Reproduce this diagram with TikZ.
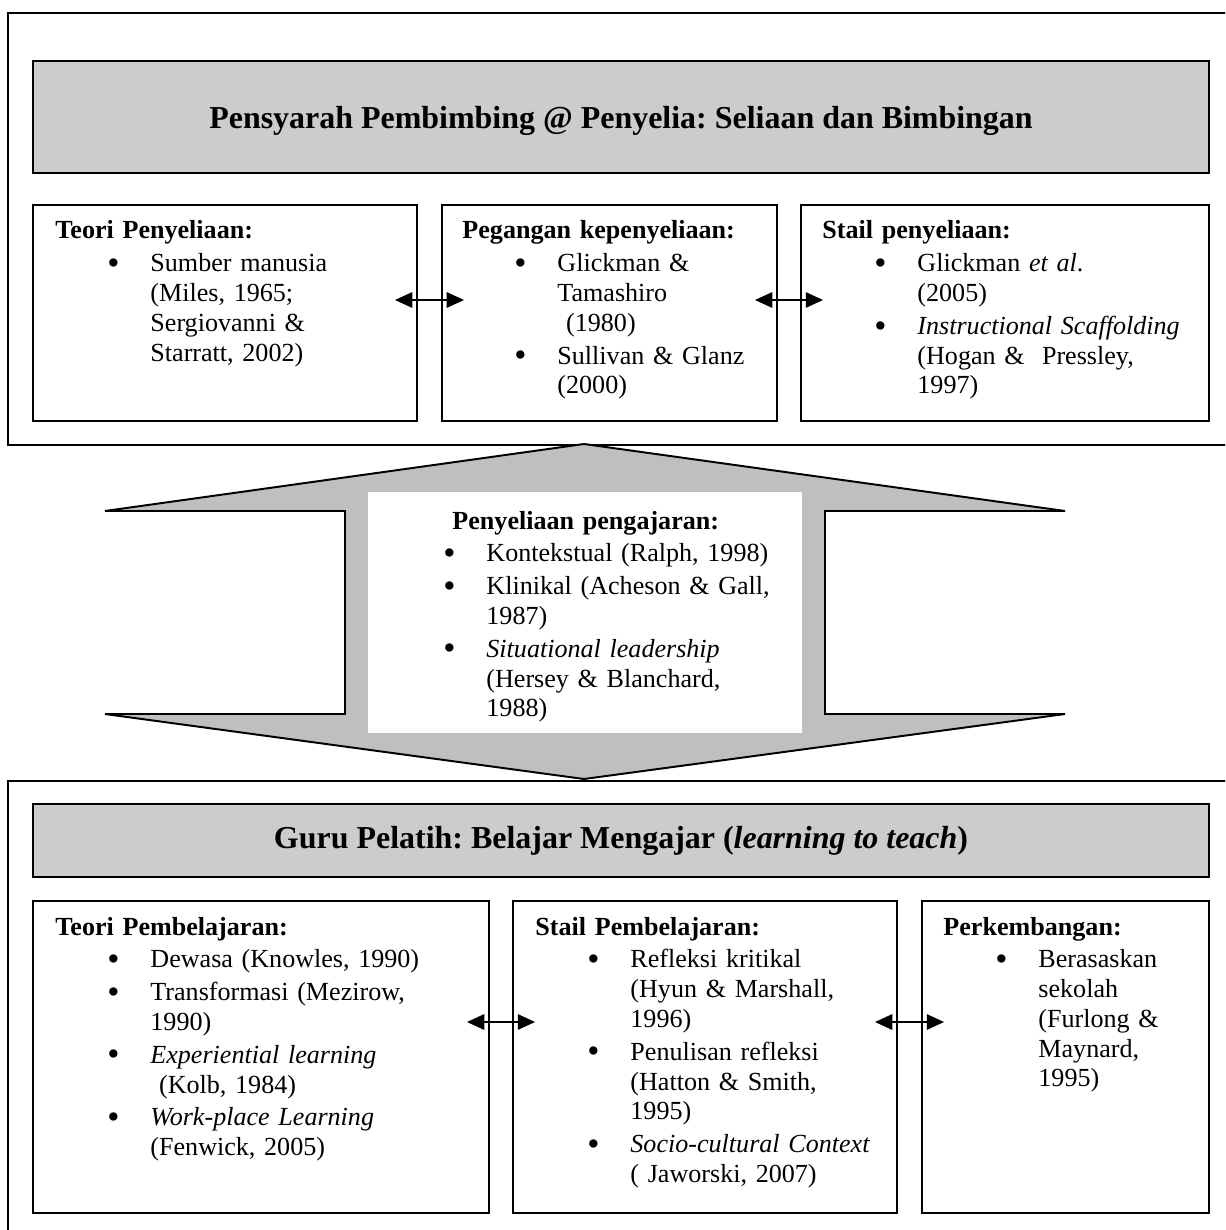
\documentclass[tikz,border=0pt]{standalone}
\usepackage{fontspec}
\setmainfont{Liberation Serif}
\usetikzlibrary{arrows.meta}
\frenchspacing

\newlength\pxu
\setlength\pxu{0.46pt}
\newcommand\dotb{\raisebox{-1.2pt}{\fontsize{16}{16}\selectfont\textbullet}}
\newcommand\itm[1][52]{\hspace*{#1\pxu}\makebox[43\pxu][l]{\dotb}}
\newcommand\ctd[1][95]{\hspace*{#1\pxu}}

\begin{document}
\begin{tikzpicture}
[
	x = 0.46pt, y = -0.46pt,
	frame/.style	= {draw = black, line width = 0.9pt, minimum width = 1232*\pxu, inner sep = 0pt},
	header/.style	= {draw = black, line width = 1.1pt, fill = black!20, minimum width = 1176*\pxu, inner sep = 0pt, font = \fontsize{14.7}{16}\selectfont\bfseries},
	box/.style	= {draw = black, line width = 0.8pt, fill = white, inner sep = 0pt},
	txt/.style	= {anchor = base west, inner sep = 0pt, text width = 210pt, align = left, font = \fontsize{12}{13.7}\selectfont},
	biarrow/.style	= {{Triangle[length = 8pt, width = 7pt]}-{Triangle[length = 8pt, width = 7pt]}, line width = 1.1pt, shorten < = -23*\pxu, shorten > = -23*\pxu},
	bigarrow/.style	= {draw = black, line width = 0.9pt, fill = black!25},
]

	\useasboundingbox (0,0) rectangle (1225,1230);
	\clip (0,0) rectangle (1225,1230);

	% outer frames
	\node (frameA) [frame, minimum height = 432*\pxu] at (624,229) {};
	\node (frameB) [frame, minimum height = 469*\pxu] at (624,1015.5) {};

	% two-way arrow between the frames
	\draw [bigarrow] (584,444) -- (1065,511) -- (825,511) -- (825,714) -- (1065,714) -- (584,779)
		-- (105,714) -- (345,714) -- (345,511) -- (105,511) -- cycle;
	\node (mid) [fill = white, inner sep = 0pt, minimum width = 434*\pxu, minimum height = 241*\pxu] at (585,612.5) {};

	% upper part
	\node (hdrA) [header, text depth = 0pt, minimum height = 112*\pxu] at (621,117) {Pensyarah Pembimbing @ Penyelia: Seliaan dan Bimbingan};
	%
	\node (tpA) [box, minimum width = 384*\pxu, minimum height = 216*\pxu] at (225,313) {};
	\node (pkA) [box, minimum width = 335*\pxu, minimum height = 216*\pxu] at (609.5,313) {};
	\node (spA) [box, minimum width = 408*\pxu, minimum height = 216*\pxu] at (1005,313) {};

	% lower part
	\node (hdrB) [header, minimum height = 73*\pxu] at (621,840.5) {Guru Pelatih: Belajar Mengajar (\textit{learning to teach})};
	%
	\node (tbB) [box, minimum width = 456*\pxu, minimum height = 312*\pxu] at (261,1057) {};
	\node (spB) [box, minimum width = 384*\pxu, minimum height = 312*\pxu] at (705,1057) {};
	\node (pkB) [box, minimum width = 287*\pxu, minimum height = 312*\pxu] at (1065.5,1057) {};

	% texts
	\node (tpAtxt) [txt] at (55,239) {\textbf{Teori Penyeliaan:}\\[1.4pt]
		\itm Sumber manusia\\ \ctd (Miles, 1965;\\ \ctd Sergiovanni \&\\ \ctd Starratt, 2002)};
	\node (pkAtxt) [txt] at (462,239) {\textbf{Pegangan kepenyeliaan:}\\[1.4pt]
		\itm Glickman \&\\ \ctd Tamashiro\\ \ctd\ (1980)\\[1.4pt]
		\itm Sullivan \& Glanz\\ \ctd (2000)};
	\node (spAtxt) [txt] at (822,239) {\textbf{Stail penyeliaan:}\\[1.4pt]
		\itm Glickman \textit{et al}.\\ \ctd (2005)\\[1.4pt]
		\itm \textit{Instructional Scaffolding}\\ \ctd (Hogan \&\ \ Pressley,\\ \ctd 1997)};
	%
	\node (midtxt) [txt] at (443,529) {\hspace*{9\pxu}\textbf{Penyeliaan pengajaran:}\\[1.4pt]
		\itm[0]Kontekstual (Ralph, 1998)\\[1.4pt]
		\itm[0]Klinikal (Acheson \& Gall,\\ \ctd[43]1987)\\[1.4pt]
		\itm[0]\textit{Situational leadership}\\ \ctd[43](Hersey \& Blanchard,\\ \ctd[43]1988)};
	%
	\node (tbBtxt) [txt] at (55,935) {\textbf{Teori Pembelajaran:}\\[1.4pt]
		\itm Dewasa (Knowles, 1990)\\[1.4pt]
		\itm Transformasi (Mezirow,\\ \ctd 1990)\\[1.4pt]
		\itm \textit{Experiential learning}\\ \ctd\ (Kolb, 1984)\\[1.4pt]
		\itm \textit{Work-place Learning}\\ \ctd (Fenwick, 2005)};
	\node (spBtxt) [txt] at (535,935) {\textbf{Stail Pembelajaran:}\\[1.4pt]
		\itm Refleksi kritikal\\ \ctd (Hyun \& Marshall,\\ \ctd 1996)\\[1.4pt]
		\itm Penulisan refleksi\\ \ctd (Hatton \& Smith,\\ \ctd 1995)\\[1.4pt]
		\itm \textit{Socio-cultural Context}\\ \ctd (\ Jaworski, 2007)};
	\node (pkBtxt) [txt] at (943,935) {\textbf{Perkembangan:}\\[1.4pt]
		\itm Berasaskan\\ \ctd sekolah\\ \ctd (Furlong \&\\ \ctd Maynard,\\ \ctd 1995)};

	% links between the boxes
	\draw [biarrow] ([yshift = 13*\pxu] tpA.east) -- ([yshift = 13*\pxu] pkA.west);
	\draw [biarrow] ([yshift = 13*\pxu] pkA.east) -- ([yshift = 13*\pxu] spA.west);
	%
	\draw [biarrow] ([yshift = 35*\pxu] tbB.east) -- ([yshift = 35*\pxu] spB.west);
	\draw [biarrow] ([yshift = 35*\pxu] spB.east) -- ([yshift = 35*\pxu] pkB.west);

\end{tikzpicture}
\end{document}
